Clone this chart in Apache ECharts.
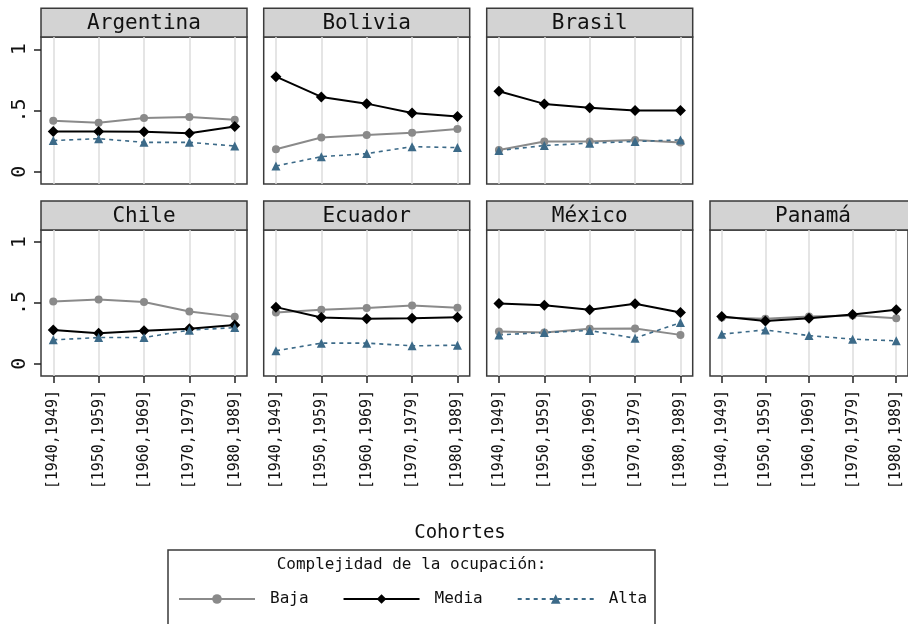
<!DOCTYPE html>
<html><head><meta charset="utf-8">
<script src="https://cdn.jsdelivr.net/npm/echarts@6/dist/echarts.min.js"></script>
<style>html,body{margin:0;padding:0;background:#fff}#c{width:908px;height:624px}</style>
</head><body><div id="c"></div>
<script>
// ---------------- data ----------------
const countries = ['Argentina', 'Bolivia', 'Brasil', 'Chile', 'Ecuador', 'México', 'Panamá'];
const cohorts = ['[1940,1949]', '[1950,1959]', '[1960,1969]', '[1970,1979]', '[1980,1989]'];
const yTicks = [0, 0.5, 1];
const yTickLabels = ['0', '.5', '1'];
const seriesNames = ['Baja', 'Media', 'Alta'];
// one row per country (same order as countries), one value per cohort
const baja = [
  [0.417, 0.400, 0.439, 0.447, 0.425],
  [0.184, 0.279, 0.300, 0.318, 0.348],
  [0.178, 0.247, 0.247, 0.260, 0.238],
  [0.512, 0.528, 0.509, 0.430, 0.386],
  [0.422, 0.444, 0.458, 0.479, 0.460],
  [0.265, 0.257, 0.288, 0.290, 0.238],
  [0.381, 0.370, 0.389, 0.397, 0.375]
];
const media = [
  [0.329, 0.329, 0.326, 0.315, 0.370],
  [0.776, 0.611, 0.556, 0.480, 0.452],
  [0.657, 0.554, 0.523, 0.499, 0.499],
  [0.279, 0.252, 0.271, 0.288, 0.320],
  [0.466, 0.381, 0.370, 0.375, 0.383],
  [0.496, 0.482, 0.444, 0.494, 0.422],
  [0.389, 0.353, 0.375, 0.405, 0.444]
];
const alta = [
  [0.255, 0.270, 0.240, 0.240, 0.210],
  [0.047, 0.123, 0.148, 0.205, 0.197],
  [0.173, 0.214, 0.233, 0.247, 0.260],
  [0.197, 0.216, 0.216, 0.277, 0.298],
  [0.107, 0.170, 0.170, 0.148, 0.153],
  [0.238, 0.257, 0.274, 0.211, 0.339],
  [0.244, 0.279, 0.232, 0.203, 0.189]
];

// ---------------- layout & style ----------------
const FONT = '"DejaVu Sans Mono", monospace';
const colLeft = [41, 263.7, 486.7, 710];
const panelW = 206;
const rowTop = [37, 230];
const rowH = [147, 146];
const headTop = [8.3, 201];
const frameColor = '#3a3a3a';
const styleFor = {
  Baja:  { color: '#8a8a8a', symbol: 'circle',   size: 8,  width: 2,   type: 'solid' },
  Media: { color: '#000000', symbol: 'diamond',  size: 11, width: 2,   type: 'solid' },
  Alta:  { color: '#3c6a88', symbol: 'triangle', size: 9,  width: 1.6, type: [4, 4] }
};
const seriesData = { Baja: baja, Media: media, Alta: alta };

const grids = [], xAxes = [], yAxes = [], series = [], graphics = [];
countries.forEach((name, p) => {
  const row = p < 3 ? 0 : 1;
  const col = p < 3 ? p : p - 3;
  const left = colLeft[col];
  grids.push({ left: left, top: rowTop[row], width: panelW, height: rowH[row],
    show: true, borderColor: frameColor, borderWidth: 1.5, backgroundColor: '#fff' });
  xAxes.push({
    gridIndex: p, type: 'value', min: -0.27, max: 4.27,
    axisLine: { show: false, onZero: false },
    axisTick: { show: row === 1, customValues: [0, 1, 2, 3, 4], length: 7,
      lineStyle: { color: '#222', width: 1.5 } },
    axisLabel: { show: row === 1, customValues: [0, 1, 2, 3, 4], rotate: 90, margin: 14,
      formatter: v => cohorts[Math.round(v)] || '',
      fontFamily: FONT, fontSize: 15, color: '#111' },
    splitLine: { show: true, lineStyle: { color: '#dcdcdc', width: 1.5 } }
  });
  yAxes.push({
    gridIndex: p, type: 'value', min: -0.1, max: 1.1,
    axisLine: { show: false, onZero: false },
    splitLine: { show: false },
    axisTick: { show: col === 0, customValues: yTicks, length: 7,
      lineStyle: { color: '#222', width: 1.5 } },
    axisLabel: { show: col === 0, customValues: yTicks, rotate: 90, margin: 11,
      formatter: v => {
        let best = 0;
        yTicks.forEach((t, i) => { if (Math.abs(t - v) < Math.abs(yTicks[best] - v)) best = i; });
        return yTickLabels[best];
      },
      fontFamily: FONT, fontSize: 20, color: '#111' }
  });
  seriesNames.forEach(sn => {
    const st = styleFor[sn];
    series.push({
      name: sn, type: 'line', xAxisIndex: p, yAxisIndex: p,
      data: seriesData[sn][p].map((v, i) => [i, v]),
      symbol: st.symbol, symbolSize: st.size, showSymbol: true,
      itemStyle: { color: st.color },
      lineStyle: { color: st.color, width: st.width, type: st.type },
      emphasis: { disabled: true }, animation: false
    });
  });
  // panel header
  graphics.push({ type: 'rect', silent: true,
    shape: { x: left, y: headTop[row], width: panelW, height: rowTop[row] - headTop[row] },
    style: { fill: '#d3d3d3', stroke: frameColor, lineWidth: 1.5 } });
  graphics.push({ type: 'text', silent: true,
    style: { text: name, x: left + panelW / 2, y: (headTop[row] + rowTop[row]) / 2 + 1,
      textAlign: 'center', textVerticalAlign: 'middle', font: '21px ' + FONT, fill: '#111' } });
});

// axis title and legend box
graphics.push({ type: 'text', silent: true,
  style: { text: 'Cohortes', x: 460, y: 533, textAlign: 'center', textVerticalAlign: 'middle',
    font: '19px ' + FONT, fill: '#111' } });
graphics.push({ type: 'rect', silent: true,
  shape: { x: 168, y: 550, width: 487, height: 110 },
  style: { fill: '#fff', stroke: frameColor, lineWidth: 1.5 } });
graphics.push({ type: 'text', silent: true,
  style: { text: 'Complejidad de la ocupación:', x: 411.5, y: 565, textAlign: 'center',
    textVerticalAlign: 'middle', font: '16px ' + FONT, fill: '#111' } });

const chart = echarts.init(document.getElementById('c'), null, { renderer: 'canvas' });
chart.setOption({
  animation: false,
  backgroundColor: '#fff',
  grid: grids, xAxis: xAxes, yAxis: yAxes, series: series,
  graphic: { elements: graphics },
  legend: {
    data: seriesNames, left: 178, top: 591, padding: 0,
    itemWidth: 76, itemHeight: 12, itemGap: 34, selectedMode: false,
    textStyle: { fontFamily: FONT, fontSize: 16, color: '#111', padding: [0, 0, 0, 10] }
  }
});
</script></body></html>
